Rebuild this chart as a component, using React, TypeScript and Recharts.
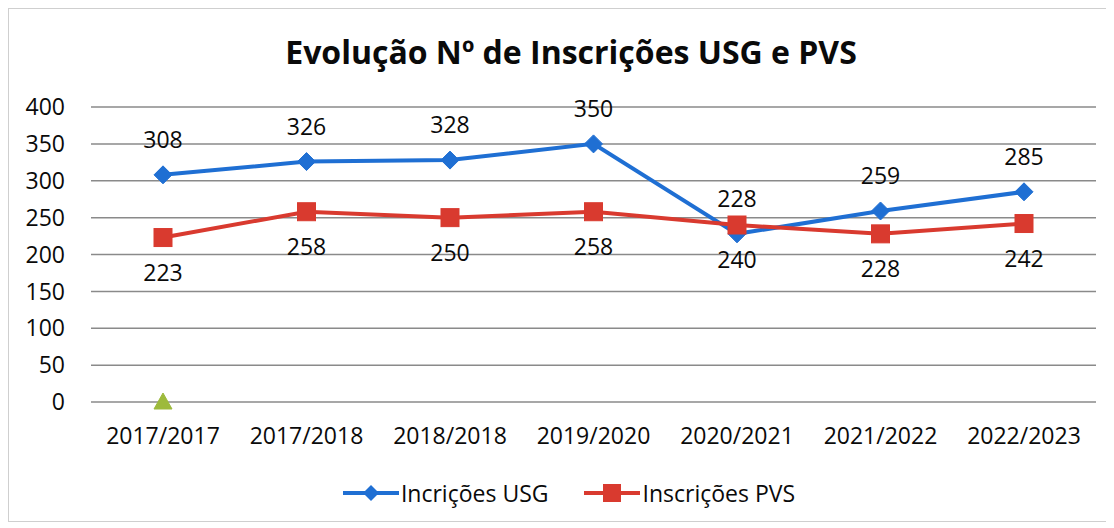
import React from "react";
import { LineChart, Line, XAxis, YAxis, CartesianGrid, Legend } from "recharts";

const categories = ["2017/2017", "2017/2018", "2018/2018", "2019/2020", "2020/2021", "2021/2022", "2022/2023"];
const usgValues = [308, 326, 328, 350, 228, 259, 285];
const pvsValues = [223, 258, 250, 258, 240, 228, 242];
const thirdValues: (number | null)[] = [0, null, null, null, null, null, null];
const yTicks = [0, 50, 100, 150, 200, 250, 300, 350, 400];

const TITLE = "Evolução Nº de Inscrições USG e PVS";
const USG_NAME = "Incrições USG";
const PVS_NAME = "Inscrições PVS";

const BLUE = "#1f6fd3";
const RED = "#d93a2f";
const GREEN = "#9dba3c";
const FONT = "'Open Sans', 'Noto Sans', sans-serif";
const TEXT = "#0a0a0a";

const data = categories.map((c, i) => ({
  cat: c,
  usg: usgValues[i],
  pvs: pvsValues[i],
  third: thirdValues[i],
}));

const Diamond = (props: any) => {
  const { cx, cy } = props;
  if (cx == null || cy == null || isNaN(cy)) return null;
  const s = 9;
  return (
    <polygon
      key={`d-${cx}`}
      points={`${cx},${cy - s} ${cx + s},${cy} ${cx},${cy + s} ${cx - s},${cy}`}
      fill={BLUE}
      stroke={BLUE}
      strokeWidth={1}
    />
  );
};

const Square = (props: any) => {
  const { cx, cy } = props;
  if (cx == null || cy == null || isNaN(cy)) return null;
  const s = 9;
  return <rect key={`s-${cx}`} x={cx - s} y={cy - s} width={2 * s} height={2 * s} fill={RED} stroke={RED} />;
};

const Triangle = (props: any) => {
  const { cx, cy, value } = props;
  if (cx == null || cy == null || value == null || isNaN(cy)) return null;
  const s = 9;
  return (
    <polygon
      key={`t-${cx}`}
      points={`${cx},${cy - s} ${cx + s},${cy + s - 2} ${cx - s},${cy + s - 2}`}
      fill={GREEN}
      stroke={GREEN}
    />
  );
};

const LegendContent = () => (
  <div
    style={{
      display: "flex",
      justifyContent: "center",
      alignItems: "center",
      fontFamily: FONT,
      fontSize: 23,
      color: TEXT,
      paddingLeft: 22,
    }}
  >
    <div style={{ display: "flex", alignItems: "center", marginRight: 36 }}>
      <svg width={56} height={20}>
        <line x1={0} y1={10} x2={56} y2={10} stroke={BLUE} strokeWidth={4} />
        <polygon points="28,2 36,10 28,18 20,10" fill={BLUE} />
      </svg>
      <span style={{ marginLeft: 2 }}>{USG_NAME}</span>
    </div>
    <div style={{ display: "flex", alignItems: "center" }}>
      <svg width={56} height={20}>
        <line x1={0} y1={10} x2={56} y2={10} stroke={RED} strokeWidth={4} />
        <rect x={19} y={1} width={18} height={18} fill={RED} />
      </svg>
      <span style={{ marginLeft: 2 }}>{PVS_NAME}</span>
    </div>
  </div>
);

export default function App() {
  return (
    <div
      style={{
        position: "relative",
        width: 1100,
        height: 514,
        border: "1px solid #cfcfcf",
        background: "#fff",
        boxSizing: "border-box",
      }}
    >
      <div
        style={{
          position: "absolute",
          top: 21,
          left: 0,
          width: 1100,
          textAlign: "center",
          fontFamily: FONT,
          fontWeight: 700,
          fontSize: 32,
          color: TEXT,
          paddingLeft: 24,
          boxSizing: "border-box",
        }}
      >
        {TITLE}
      </div>
      <LineChart
        width={1098}
        height={512}
        data={data}
        margin={{ top: 98, right: 11, bottom: 0, left: 0 }}
        style={{ fontFamily: FONT }}
      >
        <CartesianGrid vertical={false} stroke="#8a8a8a" strokeWidth={1.5} />
        <XAxis
          dataKey="cat"
          padding={{ left: 72, right: 72 }}
          axisLine={false}
          tickLine={false}
          tickSize={0}
          tickMargin={26}
          height={87}
          interval={0}
          tick={{ fill: TEXT, fontSize: 23, fontFamily: FONT }}
        />
        <YAxis
          domain={[0, 400]}
          ticks={yTicks}
          axisLine={false}
          tickLine={false}
          tickSize={0}
          tickMargin={26}
          width={82}
          interval={0}
          tick={{ fill: TEXT, fontSize: 23, fontFamily: FONT }}
        />
        <Legend
          verticalAlign="bottom"
          content={<LegendContent />}
          wrapperStyle={{ top: 468, left: 0, width: 1098 }}
        />
        <Line
          type="linear"
          dataKey="usg"
          name={USG_NAME}
          stroke={BLUE}
          strokeWidth={4}
          dot={<Diamond />}
          activeDot={false}
          isAnimationActive={false}
          label={{ position: "top", offset: 27, fill: TEXT, fontSize: 23, fontFamily: FONT }}
        />
        <Line
          type="linear"
          dataKey="pvs"
          name={PVS_NAME}
          stroke={RED}
          strokeWidth={4}
          dot={<Square />}
          activeDot={false}
          isAnimationActive={false}
          label={{ position: "bottom", offset: 27, fill: TEXT, fontSize: 23, fontFamily: FONT }}
        />
        <Line
          type="linear"
          dataKey="third"
          name="Série3"
          stroke="none"
          strokeWidth={0}
          dot={<Triangle />}
          activeDot={false}
          legendType="none"
          isAnimationActive={false}
        />
      </LineChart>
    </div>
  );
}
